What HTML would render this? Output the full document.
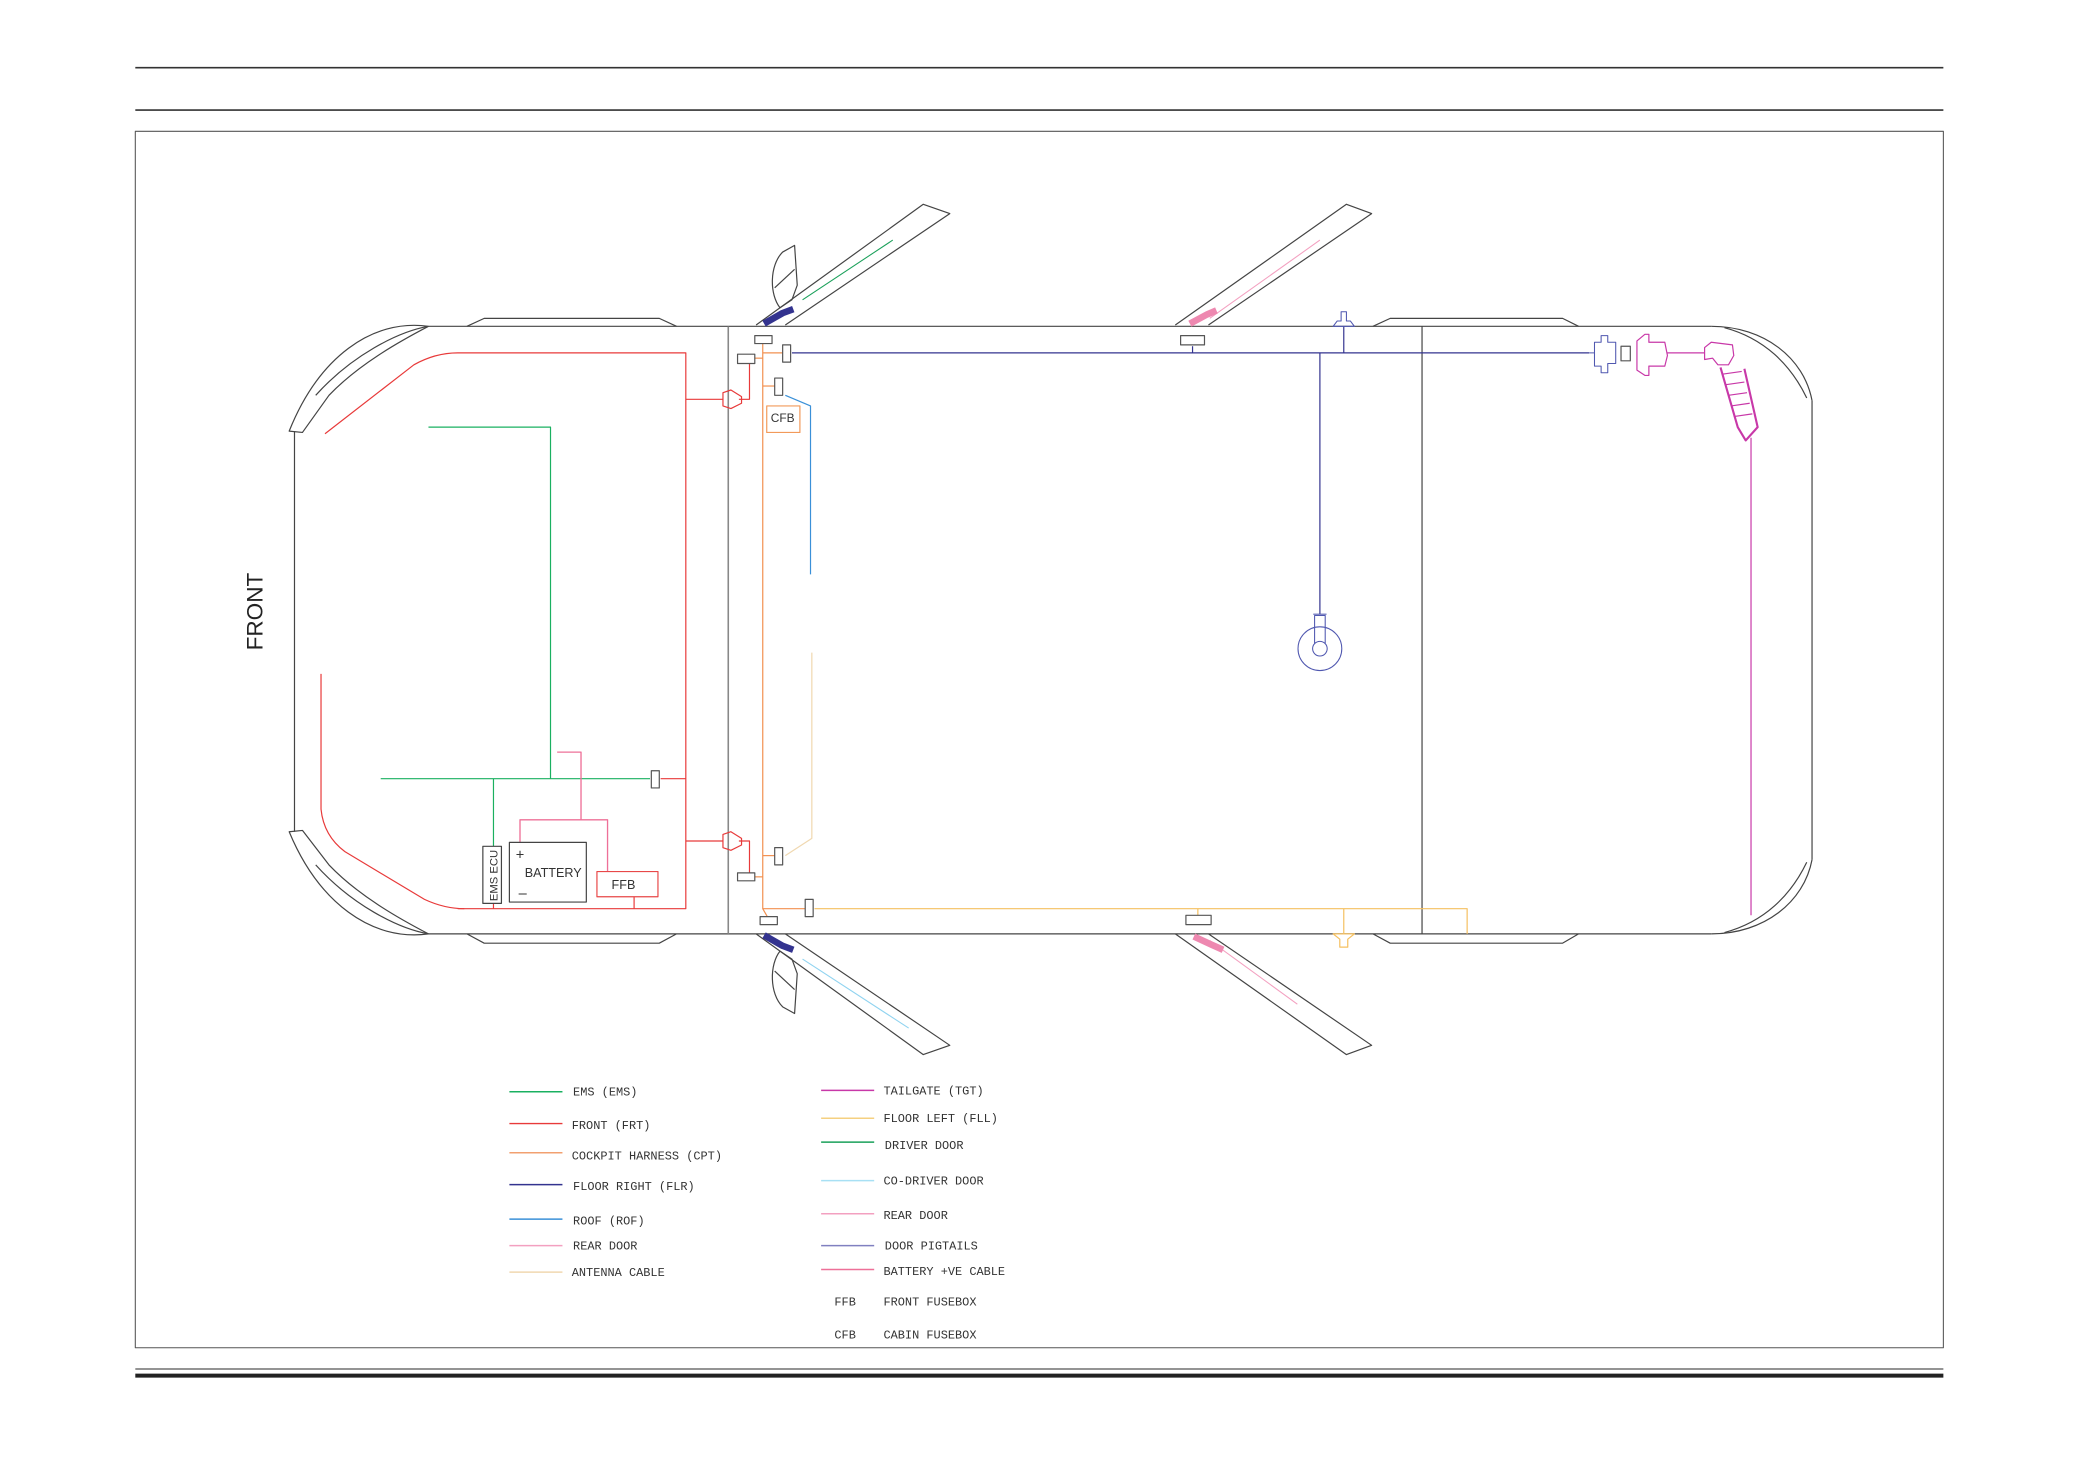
<!DOCTYPE html>
<html><head><meta charset="utf-8"><style>
html,body{margin:0;padding:0;background:#fff;}
svg{display:block;}
text{font-family:"Liberation Mono","DejaVu Sans Mono",monospace;}
</style></head><body>
<svg width="2080" height="1471" viewBox="0 0 1568 1108.9" preserveAspectRatio="none" xmlns="http://www.w3.org/2000/svg">
<g fill="none" stroke-linejoin="round">
<line x1="102" y1="51" x2="1465" y2="51" stroke="#333" stroke-width="1.2"/>
<line x1="102" y1="83" x2="1465" y2="83" stroke="#333" stroke-width="1.2"/>
<rect x="102" y="99" width="1363" height="917" stroke="#555" stroke-width="0.8"/>
<line x1="102" y1="1032" x2="1465" y2="1032" stroke="#555" stroke-width="1"/>
<line x1="102" y1="1037" x2="1465" y2="1037" stroke="#222" stroke-width="3"/>

<g stroke="#444" stroke-width="0.9">
<line x1="323" y1="246" x2="1290" y2="246"/>
<line x1="323" y1="704" x2="1290" y2="704"/>
<line x1="222" y1="325" x2="222" y2="627"/>
<line x1="1366" y1="302" x2="1366" y2="648"/>
<line x1="549" y1="246" x2="549" y2="704" stroke="#888" stroke-width="1.2"/>
<line x1="1072" y1="246" x2="1072" y2="704"/>
<path d="M352 246 L365 240 L497 240 L510 246"/>
<path d="M352 704 L365 711 L497 711 L510 704"/>
<path d="M1035 246 L1048 240 L1178 240 L1190 246"/>
<path d="M1035 704 L1048 711 L1178 711 L1190 704"/>
<path d="M323 246 C280 240 240 270 218 325 L228 326 L248 298 C270 275 300 258 323 246"/>
<path d="M323 246 C300 250 265 268 238 298"/>
<path d="M323 704 C280 710 240 680 218 627 L228 626 L248 652 C270 675 300 692 323 704"/>
<path d="M323 704 C300 700 265 682 238 652"/>
<path d="M1290 246 C1330 246 1360 270 1366 302"/>
<path d="M1300 247 C1330 255 1350 275 1362 300"/>
<path d="M1290 704 C1330 704 1360 680 1366 648"/>
<path d="M1300 703 C1330 695 1350 675 1362 650"/>
<path d="M570 245 L696 154 L716 161 L592 245"/>
<path d="M886 245 L1015 154 L1034 161 L911 245"/>
<path d="M570 704 L696 795 L716 788 L592 704"/>
<path d="M886 704 L1015 795 L1034 788 L911 704"/>
<path d="M588 232 C580 222 580 200 590 190 L599 185 L601 215 L597 226 Z"/>
<path d="M584 217 L599 203"/>
<path d="M588 717 C580 727 580 749 590 759 L599 764 L601 734 L597 723 Z"/>
<path d="M584 732 L599 746"/>
</g>
<line x1="605" y1="226" x2="673" y2="181" stroke="#1aa05a" stroke-width="0.8"/>
<line x1="605" y1="723" x2="685" y2="775" stroke="#8fd3f0" stroke-width="0.8"/>
<line x1="912" y1="240" x2="995" y2="181" stroke="#f3a0c0" stroke-width="0.8"/>
<line x1="912" y1="709" x2="978" y2="757" stroke="#f3a0c0" stroke-width="0.8"/>
<path d="M576 244 L590 236 L598 233" stroke="#33338f" stroke-width="5"/>
<path d="M576 705 L590 713 L598 716" stroke="#33338f" stroke-width="5"/>
<path d="M897 244 L910 237 L917 234" stroke="#ee88b0" stroke-width="5"/>
<path d="M900 706 L913 712 L922 716" stroke="#ee88b0" stroke-width="5"/>

<g stroke="#e83a3a" stroke-width="0.9">
<path d="M245 327 L312 275 Q328 266 345 266 L517 266 L517 685 L345 685"/>
<path d="M242 508 L242 610 Q244 630 260 642 L320 678 Q335 685 350 685"/>
<path d="M517 301 L545 301"/><path d="M517 634 L545 634"/>
<path d="M498 587 L517 587"/>
<path d="M557 301 L565 301 L565 273"/>
<path d="M557 634 L565 634 L565 661"/>
<path d="M478 676 L478 685"/><path d="M372 681 L372 685"/>
<path d="M545 296 L551 294 L559 299 L559 304 L551 308 L545 306 Z"/>
<path d="M545 629 L551 627 L559 632 L559 637 L551 641 L545 639 Z"/>
</g>
<g stroke="#1ab060" stroke-width="0.9">
<path d="M323 322 L415 322 L415 587"/>
<path d="M287 587 L490 587"/>
<path d="M372 587 L372 638"/>
</g>
<g stroke="#ee7098" stroke-width="1">
<path d="M420 567 L438 567 L438 618"/>
<path d="M392 635 L392 618 L458 618 L458 657"/>
</g>
<rect x="384" y="635" width="58" height="45" stroke="#444" stroke-width="0.9"/>
<rect x="364" y="638" width="14" height="43" stroke="#444" stroke-width="0.9"/>
<rect x="450" y="657" width="46" height="19" stroke="#e84848" stroke-width="0.9"/>
<rect x="578" y="306" width="25" height="20" stroke="#f29a5a" stroke-width="0.9"/>
<g stroke="#f29050" stroke-width="0.9">
<path d="M575 256 L575 685 L607 685"/>
<path d="M575 266 L590 266"/><path d="M575 291 L584 291"/>
<path d="M567 270 L575 270"/><path d="M567 661 L575 661"/>
<path d="M575 645 L584 645"/>
<path d="M575 685 L579 692"/>
</g>
<path d="M614 685 L1106 685 L1106 704" stroke="#f5c060" stroke-width="0.9"/>
<path d="M903 685 L903 691 M1013 685 L1013 704" stroke="#f5c060" stroke-width="0.9"/>
<path d="M1005 704 L1021 704 L1016 708 L1016 714 L1010 714 L1010 708 Z" stroke="#f5c060" stroke-width="0.9"/>
<path d="M612 492 L612 632 L592 645" stroke="#f0d8b0" stroke-width="0.9"/>
<path d="M592 298 L611 306 L611 433" stroke="#3a90d8" stroke-width="0.9"/>
<g stroke="#33338f" stroke-width="0.9">
<path d="M597 266 L1198 266"/>
<path d="M995 266 L995 463"/>
<path d="M1013 266 L1013 246"/>
<path d="M899 261 L899 266"/>
</g>
<g stroke="#5058b0" stroke-width="0.8">
<circle cx="995" cy="489" r="16.5"/>
<circle cx="995" cy="489" r="5.5"/>
<path d="M991 485 L991 464 L999 464 L999 485"/>
<path d="M990 463 L1000 463"/>
<path d="M1005 246 L1021 246 L1018 242 L1015 242 L1015 235 L1011 235 L1011 242 L1008 242 Z"/>
<path d="M1198 266 L1202 266 L1202 258 L1207 258 L1207 253 L1212 253 L1212 258 L1218 258 L1218 274 L1212 274 L1212 281 L1207 281 L1207 276 L1202 276 L1202 266"/>
</g>
<g stroke="#c838a8" stroke-width="0.9">
<path d="M1234 257 L1240 252 L1243 252 L1243 258 L1255 258 L1257 268 L1255 276 L1243 276 L1243 283 L1240 283 L1234 279 Z"/>
<path d="M1257 266 L1285 266"/>
<path d="M1285 262 L1290 258 L1306 260 L1307 268 L1303 275 L1295 275 L1291 270 L1285 271 Z"/>
<path d="M1297 277 L1310 322 L1316 332 L1325 322 L1315 278" stroke-width="1.6"/>
<path d="M1299 282 L1313 280 M1301 290 L1315 288 M1303 298 L1317 296 M1305 306 L1319 304 M1307 314 L1321 312"/>
<path d="M1320 330 L1320 690"/>
</g>
<g stroke="#555" stroke-width="0.9" fill="#fff">
<rect x="569" y="253" width="13" height="6"/>
<rect x="556" y="267" width="13" height="7"/>
<rect x="590" y="260" width="6" height="13"/>
<rect x="584" y="285" width="6" height="13"/>
<rect x="491" y="581" width="6" height="13"/>
<rect x="584" y="639" width="6" height="13"/>
<rect x="556" y="658" width="13" height="6"/>
<rect x="607" y="678" width="6" height="13"/>
<rect x="573" y="691" width="13" height="6"/>
<rect x="890" y="253" width="18" height="7"/>
<rect x="894" y="690" width="19" height="7"/>
<rect x="1222" y="261" width="7" height="11"/>
</g>
</g>

<text x="198" y="461" transform="rotate(-90 198 461)" text-anchor="middle" font-size="17" fill="#222" style="font-family:'Liberation Sans',sans-serif">FRONT</text>
<text x="590" y="318" font-size="9" fill="#333" text-anchor="middle" style="font-family:'Liberation Sans',sans-serif">CFB</text>
<text x="470" y="670" font-size="9.5" fill="#333" text-anchor="middle" style="font-family:'Liberation Sans',sans-serif">FFB</text>
<text x="417" y="661" font-size="9.5" fill="#333" text-anchor="middle" style="font-family:'Liberation Sans',sans-serif">BATTERY</text>
<text x="392" y="648" font-size="11" fill="#333" text-anchor="middle" style="font-family:'Liberation Sans',sans-serif">+</text>
<text x="394" y="677" font-size="11" fill="#333" text-anchor="middle" style="font-family:'Liberation Sans',sans-serif">–</text>
<text x="375" y="660" transform="rotate(-90 375 660)" font-size="8.5" fill="#333" text-anchor="middle" style="font-family:'Liberation Sans',sans-serif">EMS ECU</text>

<g stroke-width="1.1">
<line x1="384" y1="823" x2="424" y2="823" stroke="#1ab060"/>
<line x1="384" y1="847" x2="424" y2="847" stroke="#e83a3a"/>
<line x1="384" y1="869" x2="424" y2="869" stroke="#f2a070"/>
<line x1="384" y1="893" x2="424" y2="893" stroke="#33338f"/>
<line x1="384" y1="919" x2="424" y2="919" stroke="#3a90d8"/>
<line x1="384" y1="939" x2="424" y2="939" stroke="#f3a0c0"/>
<line x1="384" y1="959" x2="424" y2="959" stroke="#f0d8b0"/>
<line x1="619" y1="822" x2="659" y2="822" stroke="#c838a8"/>
<line x1="619" y1="843" x2="659" y2="843" stroke="#f5d080"/>
<line x1="619" y1="861" x2="659" y2="861" stroke="#1aa05a"/>
<line x1="619" y1="890" x2="659" y2="890" stroke="#a8e0f4"/>
<line x1="619" y1="915" x2="659" y2="915" stroke="#f3a0c0"/>
<line x1="619" y1="939" x2="659" y2="939" stroke="#8080c0"/>
<line x1="619" y1="957" x2="659" y2="957" stroke="#ee7098"/>
</g>
<g font-size="9" fill="#333">
<text x="432" y="826">EMS (EMS)</text>
<text x="431" y="851">FRONT (FRT)</text>
<text x="431" y="874">COCKPIT HARNESS (CPT)</text>
<text x="432" y="897">FLOOR RIGHT (FLR)</text>
<text x="432" y="923">ROOF (ROF)</text>
<text x="432" y="942">REAR DOOR</text>
<text x="431" y="962">ANTENNA CABLE</text>
<text x="666" y="825">TAILGATE (TGT)</text>
<text x="666" y="846">FLOOR LEFT (FLL)</text>
<text x="667" y="866">DRIVER DOOR</text>
<text x="666" y="893">CO-DRIVER DOOR</text>
<text x="666" y="919">REAR DOOR</text>
<text x="667" y="942">DOOR PIGTAILS</text>
<text x="666" y="961">BATTERY +VE CABLE</text>
<text x="629" y="984">FFB</text>
<text x="666" y="984">FRONT FUSEBOX</text>
<text x="629" y="1009">CFB</text>
<text x="666" y="1009">CABIN FUSEBOX</text>
</g>
</svg>
</body></html>
